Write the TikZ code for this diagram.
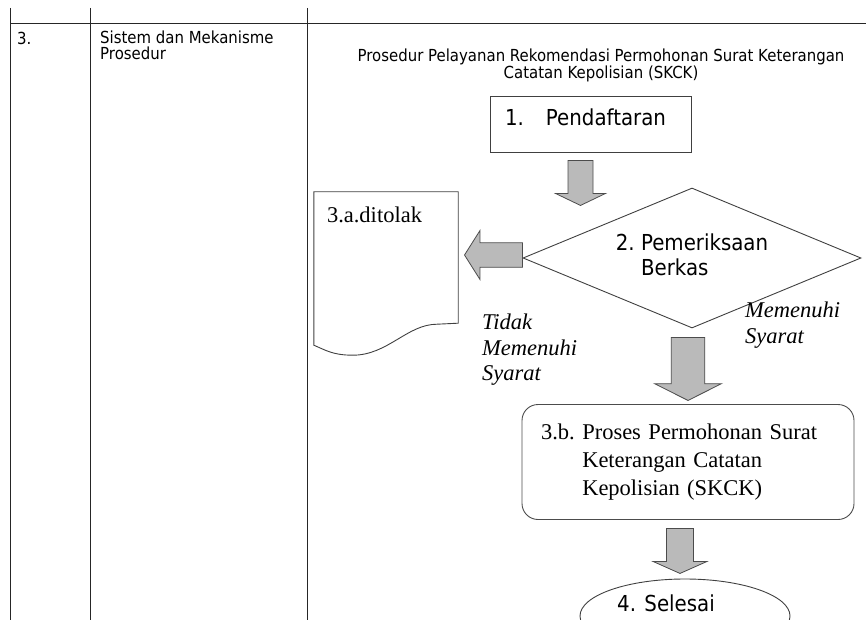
\documentclass[tikz,border=0pt]{standalone}
\usepackage{fontspec}
\setmainfont{Liberation Serif}
\newfontfamily\tahoma{DejaVu Sans}[FakeStretch=0.9]
\usetikzlibrary{shapes.geometric, calc}

\begin{document}
\begin{tikzpicture}[
    x=1pt, y=-1pt,
    tableline/.style={draw=black!85, line width=1pt},
    smalltext/.style={
        font=\tahoma\fontsize{16.6}{15.5}\selectfont,
        inner sep=0,
        align=left
    },
    box/.style={
        rectangle,
        draw=black!75,
        line width=0.9pt,
        minimum width=201,
        minimum height=56,
        inner xsep=14.5,
        inner ysep=0,
        text width=172,
        align=left,
        text height=16,
        text depth=14,
        font=\tahoma\fontsize{22}{25}\selectfont
    },
    decision/.style={
        diamond,
        aspect=2.4,
        draw=black!75,
        line width=0.9pt,
        minimum width=338,
        minimum height=140,
        inner sep=0,
        font=\tahoma\fontsize{22}{25}\selectfont
    },
    docbox/.style={
        rectangle,
        minimum width=144,
        minimum height=131,
        inner xsep=13,
        inner ysep=0,
        text width=118,
        align=left,
        text height=16,
        text depth=86,
        font=\fontsize{22.5}{27}\selectfont
    },
    docline/.style={draw=black!75, line width=0.9pt},
    roundbox/.style={
        rectangle,
        rounded corners=16,
        draw=black!70,
        line width=0.9pt,
        minimum width=332,
        minimum height=115,
        inner xsep=19,
        inner ysep=0,
        text width=294,
        align=left,
        font=\fontsize{22.5}{28}\selectfont
    },
    terminal/.style={
        ellipse,
        draw=black!75,
        line width=0.9pt,
        minimum width=210,
        minimum height=74,
        inner sep=0,
        text height=16,
        text depth=26,
        font=\tahoma\fontsize{22}{25}\selectfont
    },
    note/.style={
        inner sep=0,
        align=left,
        font=\itshape\fontsize{22.5}{25.5}\selectfont
    },
    arrowfill/.style={fill=black!27, draw=black!70, line width=0.8pt, line join=miter},
    blockarrow/.pic={
        \path[arrowfill] (-12.5,0) -- (12.5,0) -- (12.5,33) -- (25,33)
            -- (0,45) -- (-25,33) -- (-12.5,33) -- cycle;
    }
]
\useasboundingbox (0,0) rectangle (866,620);
\clip (0,0) rectangle (866,620);

% table grid
\draw[tableline] (10,8) -- (10,620);
\draw[tableline] (90,8) -- (90,620);
\draw[tableline] (307,8) -- (307,620);
\draw[tableline] (10,24) -- (866,24);

\node[smalltext, anchor=west] (nomor) at (17,38) {3.};
\node[smalltext, anchor=north west] (aspek) at (100,31) {Sistem dan Mekanisme\\Prosedur};
\node[smalltext, align=center] (judul) at (601,65)
    {Prosedur Pelayanan Rekomendasi Permohonan Surat Keterangan\\Catatan Kepolisian (SKCK)};

% flow
\node[box] (daftar) at (591,124.7) {\makebox[41pt][l]{1.}Pendaftaran};
\node[decision] (periksa) at (692,258)
    {\begin{tabular}{@{}l@{\ }l@{}}2. & Pemeriksaan\\ & Berkas\end{tabular}};
\node[docbox] (tolak) at (386,257.5) {3.a.ditolak};
\node[roundbox] (proses) at (688,462)
    {\begin{tabular}{@{}l@{\ }l@{}}3.b. & Proses Permohonan Surat\\ & Keterangan Catatan\\ & Kepolisian (SKCK)\end{tabular}};
\node[terminal] (selesai) at (685,616) {4. Selesai\hspace*{38pt}};

\node[note, anchor=north west] (tidak) at (482,314) {Tidak\\Memenuhi\\Syarat};
\node[note, anchor=north west] (memenuhi) at (745,302) {Memenuhi\\Syarat};

% document outline
\draw[docline] (tolak.south east) -- (tolak.north east) -- (tolak.north west)
    -- ($(tolak.south west)+(0,22)$)
    .. controls +(12,5) and +(-20,0) .. ($(tolak.south west)+(39,32)$)
    .. controls +(35,0) and +(-30,0) .. ($(tolak.south east)+(-21,1)$) -- cycle;

% block arrows
\pic at ($(daftar.south)+(-10.5,7.3)$) {blockarrow};
\pic[rotate=-90, xscale=0.98, yscale=1.29] at ($(periksa.west)+(0,-3)$) {blockarrow};
\pic[xscale=1.34, yscale=1.4] at ($(periksa.south)+(-4,9)$) {blockarrow};
\pic[xscale=1.08] at ($(proses.south)+(-8,8.5)$) {blockarrow};

\end{tikzpicture}
\end{document}
